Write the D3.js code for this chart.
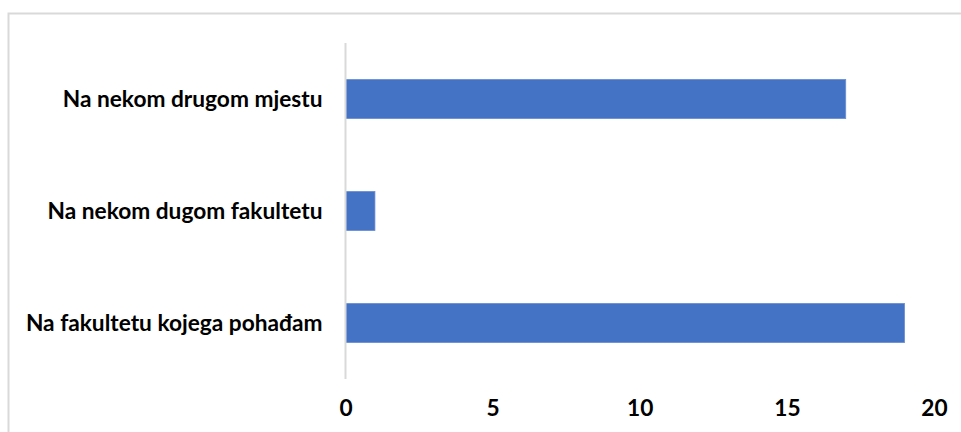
<!DOCTYPE html>
<html>
<head>
<meta charset="utf-8">
<script src="https://cdn.jsdelivr.net/npm/d3@7"></script>
<style>
  body { margin: 0; background: #fff; }
  svg text { font-family: Lato, "Open Sans", sans-serif; font-weight: bold; fill: #000; }
</style>
</head>
<body>
<svg id="chart" width="961" height="432"></svg>
<script>
// categories from top to bottom, as drawn
var categories = ["Na nekom drugom mjestu", "Na nekom dugom fakultetu", "Na fakultetu kojega pohađam"];
var values = [17, 1, 19];
var tickValues = [0, 5, 10, 15, 20];

var svg = d3.select("#chart");

// chart area border (runs off the right and bottom of the picture)
svg.append("rect")
  .attr("x", 8.5)
  .attr("y", 13.5)
  .attr("width", 1000)
  .attr("height", 1000)
  .attr("fill", "none")
  .attr("stroke", "#d9d9d9")
  .attr("stroke-width", 2);

var x = d3.scaleLinear()
  .domain([0, 20])
  .range([345.5, 934]);

var y = d3.scaleBand()
  .domain(categories)
  .range([43, 379])
  .paddingInner(0.65)
  .paddingOuter(0.325);

// bars
svg.append("g")
  .selectAll("rect")
  .data(categories)
  .enter().append("rect")
  .attr("x", x(0))
  .attr("y", function(d) { return y(d); })
  .attr("width", function(d, i) { return x(values[i]) - x(0); })
  .attr("height", y.bandwidth())
  .attr("fill", "#4472c4")
  .attr("stroke", "#6b8fd3")
  .attr("stroke-width", 0.8);

// vertical axis line
svg.append("line")
  .attr("x1", x(0))
  .attr("x2", x(0))
  .attr("y1", 43)
  .attr("y2", 379)
  .attr("stroke", "#d9d9d9")
  .attr("stroke-width", 2);

// category labels
var yAxis = d3.axisLeft(y).tickSize(0).tickPadding(23);
var yg = svg.append("g")
  .attr("transform", "translate(" + x(0) + ",0)")
  .call(yAxis);
yg.select(".domain").remove();
yg.selectAll("text")
  .attr("font-size", 22.7)
  .style("font-family", "Lato, 'Open Sans', sans-serif")
  .attr("dy", "0.35em");

// value labels
var xAxis = d3.axisBottom(x).tickValues(tickValues).tickSize(0).tickPadding(0);
var xg = svg.append("g")
  .attr("transform", "translate(0,400)")
  .call(xAxis);
xg.select(".domain").remove();
xg.selectAll("text")
  .attr("font-size", 22.7)
  .style("font-family", "Lato, 'Open Sans', sans-serif")
  .attr("dy", "0.71em");
</script>
</body>
</html>
